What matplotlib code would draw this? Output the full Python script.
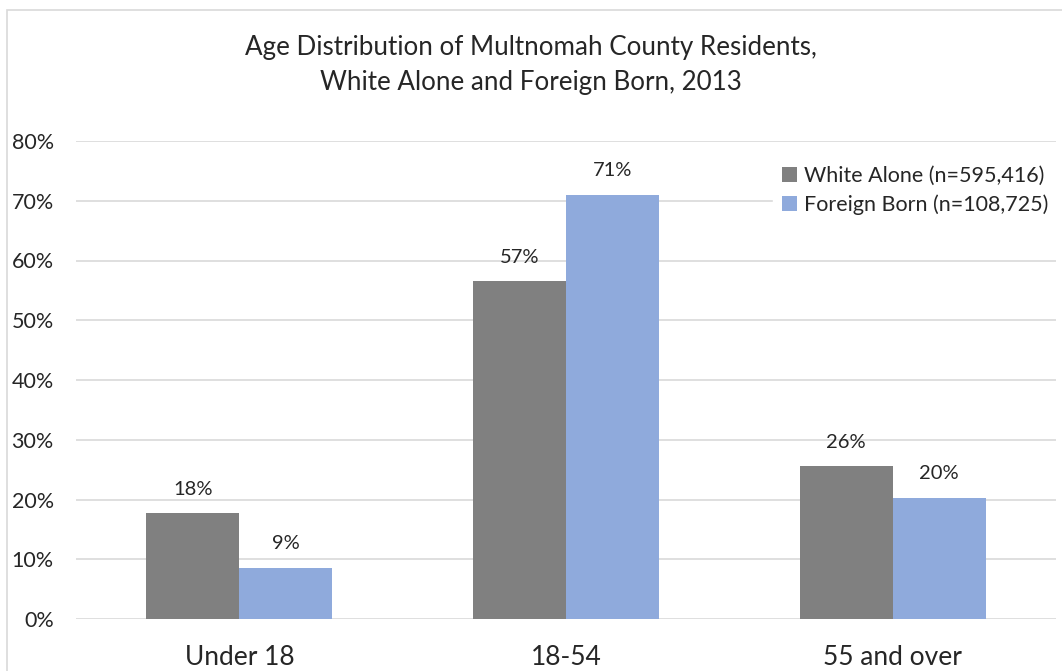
import matplotlib.pyplot as plt
import numpy as np
from matplotlib.patches import Rectangle

plt.rcParams['font.family'] = ['Lato', 'DejaVu Sans']

categories = ["Under 18", "18-54", "55 and over"]
white_alone = [0.177, 0.566, 0.256]
foreign_born = [0.086, 0.710, 0.203]
labels_white = ["18%", "57%", "26%"]
labels_foreign = ["9%", "71%", "20%"]
series_names = ["White Alone (n=595,416)", "Foreign Born (n=108,725)"]
yticks = [0, 0.1, 0.2, 0.3, 0.4, 0.5, 0.6, 0.7, 0.8]

fig = plt.figure(figsize=(10.62, 6.71), dpi=100)
ax = fig.add_axes([76 / 1062, 1 - 619 / 671, 980 / 1062, 478 / 671])

# outer chart border (only top/left visible in the reference)
fig.patches.append(Rectangle((7 / 1062, -0.1), 1.2, 1 - 10 / 671 + 0.1,
                             transform=fig.transFigure, fill=False,
                             edgecolor="#D9D9D9", linewidth=1.2))

x = np.arange(len(categories))
w = 0.285
b1 = ax.bar(x - w / 2, white_alone, w, color="#808080", label=series_names[0], zorder=3)
b2 = ax.bar(x + w / 2, foreign_born, w, color="#8FAADC", label=series_names[1], zorder=3)

for bars, labs in ((b1, labels_white), (b2, labels_foreign)):
    for r, lab in zip(bars, labs):
        ax.annotate(lab, (r.get_x() + r.get_width() / 2, r.get_height()),
                    xytext=(0, 11), textcoords="offset points",
                    ha="center", va="bottom", fontsize=14.5, color="#262626")

ax.set_xlim(-0.5, 2.5)
ax.set_ylim(0, 0.8)
ax.set_yticks(yticks)
ax.set_yticklabels([f"{t * 100:.0f}%" for t in yticks])
ax.set_xticks(x)
ax.set_xticklabels(categories, fontsize=19)
ax.tick_params(axis="y", length=0, pad=16, labelsize=15.5, labelcolor="#262626")
ax.tick_params(axis="x", length=0, pad=19, labelcolor="#262626")
ax.grid(axis="y", color="#D9D9D9", linewidth=1.2, zorder=0)
for s in ax.spines.values():
    s.set_visible(False)
ax.set_axisbelow(True)

leg = ax.legend(loc="upper right", bbox_to_anchor=(1.013, 0.99), frameon=True,
                fontsize=15.5, handlelength=0.7, handleheight=0.7,
                handletextpad=0.3, labelspacing=0.38, borderpad=0.45)
leg.get_frame().set_facecolor("white")
leg.get_frame().set_edgecolor("white")
leg.get_frame().set_alpha(1)
for t in leg.get_texts():
    t.set_color("#262626")

fig.text(0.5, 1 - 65 / 671, "Age Distribution of Multnomah County Residents,\nWhite Alone and Foreign Born, 2013",
         ha="center", va="center", fontsize=18.7, color="#262626", linespacing=1.5)

fig.savefig("out.png", dpi=100)
